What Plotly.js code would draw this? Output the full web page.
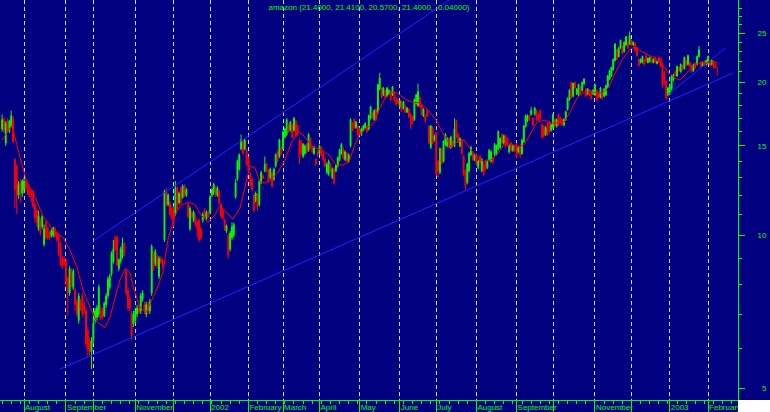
<!DOCTYPE html>
<html>
<head>
<meta charset="utf-8">
<script src="https://cdn.plot.ly/plotly-3.0.1.min.js"></script>
<style>html,body{margin:0;padding:0;background:#000080;}#chart{width:770px;height:412px;}</style>
</head>
<body>
<div id="chart"></div>
<script>
// Daily candles (trading-day index 0 = mid July 2001, last = Feb 2003)
var openP = [
16.2,16.9,15.2,16.8,16.0,16.4,17.0,14.1,13.7,12.0,
12.7,12.1,12.3,12.8,12.6,12.3,12.2,12.2,11.5,11.2,
10.3,10.7,10.4,9.6,10.6,10.3,10.1,10.0,10.0,10.3,
10.1,10.0,9.6,9.0,9.0,8.9,8.2,7.7,8.5,7.9,
7.8,7.4,6.8,7.4,7.6,7.3,7.1,6.5,6.2,5.9,
6.2,6.8,6.9,7.0,7.2,7.1,6.95,7.3,7.6,7.9,
8.4,8.9,9.9,9.9,8.6,8.9,9.1,9.6,8.5,7.8,
7.5,7.0,6.7,6.8,7.0,7.2,7.1,7.5,7.3,7.0,
7.3,7.1,7.7,9.2,8.8,9.1,8.3,9.0,8.9,9.8,
12.2,11.5,11.6,11.3,11.3,11.0,12.4,11.6,12.4,11.9,
12.5,12.0,11.5,10.3,11.1,10.7,10.9,10.6,10.7,10.3,
10.7,11.2,10.8,11.1,11.1,12.0,12.1,12.4,12.0,12.2,
11.5,11.2,10.7,10.2,10.0,9.4,9.9,10.0,11.9,12.9,
13.5,14.8,15.3,14.8,14.7,14.2,13.2,12.9,12.0,11.7,
12.0,11.5,12.7,13.1,13.4,13.8,13.4,13.0,13.3,12.9,
13.7,14.6,14.3,14.9,14.8,15.6,15.8,16.5,16.1,16.5,
16.1,16.8,16.4,15.4,15.3,14.3,14.5,15.1,14.7,15.5,
14.9,14.5,14.1,14.6,14.5,14.9,14.5,14.1,13.3,13.2,
13.8,13.0,13.5,13.4,13.7,14.1,14.5,14.8,14.1,14.5,
14.0,15.0,16.6,16.9,16.3,16.4,16.2,15.8,16.1,16.3,
16.4,16.2,17.0,17.4,16.9,17.7,17.5,19.4,19.5,18.9,
19.3,18.8,19.0,19.2,18.9,19.1,18.6,18.5,17.9,18.3,
17.8,18.0,17.5,17.7,17.3,17.1,16.9,18.2,18.0,18.7,
18.0,17.2,17.2,17.6,16.4,14.9,16.3,15.4,15.9,14.0,
13.3,14.8,14.0,15.1,15.0,15.5,14.9,15.3,15.0,16.8,
15.8,15.0,15.4,14.3,13.4,12.7,13.4,14.4,14.5,14.1,
14.4,13.6,14.3,13.4,13.8,14.0,13.6,14.1,14.0,14.2,
14.4,14.5,14.8,14.9,15.8,15.2,15.7,15.5,14.6,15.2,
14.7,15.0,15.1,14.6,15.0,14.5,15.3,16.4,16.8,17.2,
17.3,17.0,17.3,17.6,17.3,17.6,16.5,16.4,15.8,16.6,
16.7,16.1,16.3,16.9,16.4,17.3,17.0,16.9,16.5,16.9,
17.7,18.5,20.0,18.8,20.0,19.0,18.9,19.6,19.3,19.9,
19.4,19.0,19.3,19.2,19.0,18.9,19.3,19.0,18.7,19.2,
18.8,18.9,19.6,20.3,20.6,21.2,22.1,23.2,22.5,23.4,
23.6,23.0,23.7,24.0,23.8,24.2,23.7,23.9,23.4,22.2,
21.9,21.9,22.2,22.6,21.9,22.0,22.3,21.9,22.4,21.8,
22.4,22.3,21.8,21.0,20.1,18.9,19.0,19.4,20.2,21.0,
20.6,21.4,21.0,21.6,21.3,22.1,21.7,21.9,21.6,21.1,
21.8,21.7,22.5,21.9,21.6,22.0,21.7,21.8,22.0,21.7,
22.0,21.8,21.40];
var highP = [
17.3,17.1,16.8,17.0,16.9,17.6,17.2,14.2,13.8,12.8,
12.9,12.9,13.0,12.9,12.8,12.5,12.3,12.3,11.6,11.3,
11.2,10.8,11.0,10.5,10.7,10.4,10.2,10.3,10.4,10.4,
10.2,10.1,9.7,9.1,9.1,9.0,8.3,8.7,8.6,8.6,
7.9,7.5,7.7,7.5,7.7,7.4,7.2,6.6,6.3,6.3,
7.1,7.2,7.3,8.0,7.3,7.2,7.4,7.7,8.3,8.4,
9.3,9.8,10.0,10.0,9.0,9.5,9.9,9.7,8.6,7.9,
7.6,7.1,7.1,7.2,7.3,7.3,7.7,7.8,7.4,7.4,
7.4,7.5,9.6,9.3,9.4,9.2,9.1,9.1,9.0,12.3,
12.4,12.1,11.7,11.4,11.4,12.8,12.5,12.2,12.5,12.6,
12.6,12.4,11.6,11.4,11.2,11.2,11.0,10.7,10.8,10.4,
11.1,11.3,11.2,11.2,12.0,12.4,12.7,12.5,12.5,12.3,
11.6,11.3,10.8,10.5,10.1,10.2,10.6,10.6,12.9,14.1,
14.5,15.8,15.4,15.5,14.8,14.3,13.3,13.0,12.1,12.2,
12.1,12.9,13.4,13.2,14.3,13.9,13.5,13.6,13.4,13.6,
14.5,14.7,15.5,15.0,16.1,16.3,17.0,16.6,16.8,16.6,
17.1,16.9,16.5,15.5,15.4,15.2,15.1,15.2,15.9,15.6,
15.0,15.0,14.2,14.7,15.1,15.0,14.6,14.2,13.9,14.1,
13.9,13.6,13.6,13.8,14.3,14.8,15.2,14.9,14.7,14.6,
14.5,17.0,16.7,17.0,16.8,16.5,16.3,16.3,16.5,16.7,
16.5,17.3,18.0,17.5,17.7,17.8,19.9,20.9,19.6,19.6,
19.4,19.6,19.4,19.3,19.7,19.2,18.7,18.6,18.5,18.4,
18.4,18.1,17.9,17.8,17.4,17.2,18.6,19.0,19.9,18.8,
18.1,17.8,17.3,17.7,16.5,16.5,16.4,15.8,16.0,14.1,
14.9,14.9,15.4,15.9,15.6,15.6,15.7,15.4,17.0,16.9,
15.9,15.6,15.5,14.4,13.5,13.9,14.6,15.0,14.6,14.5,
14.5,14.1,14.4,14.2,13.9,14.1,14.1,14.8,14.7,14.3,
15.2,15.1,16.1,15.6,15.9,15.8,15.8,15.6,15.1,15.3,
15.1,15.1,15.2,15.0,15.1,15.5,16.5,17.3,17.3,17.3,
17.9,17.1,17.9,17.7,17.4,17.7,16.6,16.5,16.4,16.7,
16.8,16.6,17.4,17.0,17.0,17.4,17.1,17.0,17.0,17.6,
18.7,19.4,20.1,20.0,20.1,19.5,19.9,19.7,20.1,20.4,
19.5,19.5,19.4,19.3,19.4,19.9,19.4,19.1,19.6,19.3,
19.5,19.8,20.7,21.2,21.5,22.3,23.9,23.3,23.5,24.3,
23.7,24.1,24.7,24.1,25.2,24.3,24.1,24.0,23.5,22.3,
22.3,22.6,22.3,22.7,22.4,22.5,22.4,22.3,22.5,22.1,
22.5,22.4,21.9,21.1,20.2,19.6,19.8,20.7,20.8,21.1,
21.6,21.5,21.8,21.7,22.5,22.2,22.7,22.0,21.7,21.8,
21.9,22.6,23.6,22.0,22.0,22.1,22.2,22.6,22.1,22.2,
22.1,21.9,21.41];
var lowP = [
16.0,15.9,15.0,16.0,15.9,16.3,15.2,11.3,11.0,11.8,
11.6,11.9,12.1,12.2,12.0,11.9,11.6,11.3,10.6,10.4,
10.2,10.0,10.3,9.5,9.8,9.8,9.8,9.9,9.9,9.9,
9.7,9.1,8.7,8.6,8.7,7.9,6.95,7.6,7.9,7.8,
7.1,6.9,6.7,7.1,6.9,7.0,6.0,5.75,5.8,5.45,
6.1,6.7,6.8,6.9,6.8,6.85,6.9,7.2,7.5,7.8,
8.3,8.8,9.3,8.7,8.5,8.8,9.0,9.1,7.6,7.1,
7.1,6.2,6.6,6.7,6.9,7.0,7.0,7.4,7.0,6.9,
7.0,7.0,7.6,8.5,8.7,8.6,8.2,8.8,8.6,9.7,
11.4,11.4,10.9,10.7,10.4,10.9,11.2,11.5,11.5,11.8,
11.9,11.9,10.8,10.2,10.8,10.6,10.4,9.9,9.7,9.8,
10.6,10.8,10.7,10.8,11.0,11.9,12.0,11.9,11.9,11.5,
10.8,10.7,10.2,10.1,9.0,9.3,9.8,9.9,11.8,12.8,
13.4,14.7,14.4,14.7,13.7,13.3,12.5,12.2,11.1,11.6,
11.2,11.4,12.6,12.9,13.3,13.3,12.7,12.9,12.4,12.8,
13.6,13.9,14.2,14.4,14.7,15.5,15.7,15.9,16.0,15.5,
16.0,15.6,15.7,13.8,14.4,14.2,14.4,14.5,14.6,14.8,
14.5,14.4,13.7,14.3,14.4,14.3,14.0,13.6,13.2,13.1,
13.3,12.9,12.6,13.3,13.6,14.0,14.4,14.1,14.0,13.9,
13.9,14.9,16.0,16.2,16.2,15.7,15.8,15.7,16.0,16.2,
15.9,16.1,16.9,17.0,16.8,16.8,17.4,19.3,18.6,18.8,
18.6,18.7,18.9,18.4,18.8,18.4,18.0,18.1,17.8,17.5,
17.7,17.4,17.4,17.0,16.2,16.6,16.8,18.1,17.9,17.8,
17.2,17.1,16.7,17.1,15.1,14.8,15.1,15.3,13.1,13.0,
13.2,13.8,13.9,15.0,14.9,14.8,14.8,14.9,14.9,15.5,
15.2,14.9,14.4,13.1,12.3,12.6,13.3,14.3,14.0,14.0,
13.7,13.5,13.8,13.3,13.1,13.4,13.5,14.0,13.9,13.8,
14.3,14.4,14.7,14.8,15.1,15.1,14.9,15.0,14.5,14.6,
14.6,14.6,14.2,14.5,14.2,14.4,15.2,16.3,16.7,16.8,
17.2,16.4,17.2,16.8,16.8,16.9,15.5,15.6,15.7,15.7,
15.9,16.0,16.2,16.3,16.3,16.4,16.6,16.4,16.4,16.8,
17.6,18.4,18.6,18.7,19.4,18.9,18.8,18.9,19.2,19.8,
18.7,18.9,18.8,18.5,18.9,18.8,18.4,18.6,18.6,18.5,
18.7,18.8,19.5,20.2,20.5,21.1,22.0,22.1,22.4,23.3,
22.7,22.9,23.6,23.3,23.7,23.6,23.6,23.0,22.5,21.5,
21.8,21.8,21.6,21.9,21.8,21.9,21.8,21.8,21.8,21.7,
21.8,21.4,19.5,19.8,18.5,18.8,18.9,19.3,20.1,20.6,
20.5,21.0,20.9,21.1,21.2,21.5,21.6,21.4,20.9,21.0,
21.3,21.6,22.4,21.4,21.5,21.5,21.6,21.7,21.5,21.6,
21.3,21.3,20.57];
var closeP = [
16.9,16.1,16.6,16.1,16.8,17.2,15.3,12.3,12.0,12.6,
12.1,12.8,12.8,12.4,12.1,12.0,11.9,11.4,10.8,10.6,
10.9,10.1,10.9,10.3,9.9,9.9,9.9,10.2,10.35,9.95,
9.8,9.2,8.8,8.7,8.75,8.1,7.7,8.6,8.0,8.5,
7.3,7.0,7.6,7.2,7.0,7.1,6.1,5.95,5.9,6.2,
6.7,7.1,7.2,7.9,6.85,6.9,7.35,7.6,8.2,8.3,
9.2,9.4,9.4,8.75,8.95,9.4,9.65,9.2,7.7,7.2,
7.2,6.35,7.0,7.1,7.2,7.05,7.6,7.7,7.1,7.3,
7.1,7.4,9.5,8.6,9.3,8.7,9.0,8.85,8.7,12.2,
11.5,12.0,11.0,10.8,10.5,12.4,11.3,12.1,11.6,12.5,
12.0,12.3,10.9,11.3,10.9,11.1,10.5,10.3,9.8,9.9,
11.0,10.85,11.1,10.9,11.9,12.3,12.6,12.0,12.4,11.6,
10.9,10.8,10.3,10.45,9.15,10.1,10.4,10.5,12.7,14.0,
14.4,15.4,14.5,15.4,13.8,13.4,12.6,12.3,11.2,12.1,
11.4,12.8,13.3,12.95,13.8,13.4,12.8,13.5,12.5,13.5,
14.4,14.0,15.4,14.5,16.0,16.2,16.9,16.0,16.7,15.6,
17.0,15.7,15.8,14.2,14.5,15.1,15.0,14.6,15.8,14.9,
14.6,14.9,13.8,14.4,15.0,14.4,14.1,13.7,13.8,14.0,
13.4,13.5,12.7,13.75,14.2,14.7,15.1,14.2,14.6,14.0,
14.4,16.9,16.1,16.3,16.7,15.8,15.9,16.2,16.4,16.6,
16.0,17.2,17.9,17.1,17.6,16.9,19.8,20.4,18.7,19.5,
18.7,19.5,19.3,18.5,19.6,18.5,18.1,18.2,18.4,17.6,
18.3,17.5,17.8,17.1,16.5,16.7,18.5,18.9,19.2,17.9,
17.3,17.7,16.8,17.2,15.2,16.4,15.2,15.7,13.2,13.4,
14.8,13.9,15.3,15.8,15.5,14.9,15.6,15.0,16.2,15.6,
15.3,15.5,14.5,13.2,12.5,13.8,14.5,14.9,14.1,14.4,
13.8,14.0,13.9,14.1,13.2,13.5,14.0,14.7,14.6,13.95,
15.1,15.0,16.0,15.5,15.2,15.7,15.0,15.1,15.0,14.7,
15.0,14.7,14.3,14.9,14.4,15.4,16.4,17.2,17.2,16.9,
17.6,16.5,17.8,16.9,16.9,17.0,15.6,15.7,16.3,15.8,
16.0,16.5,17.3,16.4,16.9,16.5,16.7,16.5,16.9,17.5,
18.6,19.3,18.7,19.9,19.5,19.4,19.8,19.0,20.0,20.3,
18.8,19.4,18.9,18.6,19.3,19.8,18.5,18.7,19.5,18.6,
19.4,19.7,20.6,21.1,21.4,22.2,23.8,22.2,23.4,24.2,
22.8,24.0,24.6,23.4,24.7,23.7,24.0,23.1,22.6,21.6,
22.2,22.5,21.7,22.0,22.3,22.4,21.9,22.2,21.9,22.0,
21.9,21.5,19.8,19.9,18.6,19.5,19.7,20.6,20.7,20.7,
21.5,21.1,21.7,21.2,22.4,21.6,22.6,21.5,21.0,21.7,
21.4,22.5,23.2,21.5,21.9,21.6,22.1,22.5,21.6,22.1,
21.4,21.44,21.40];

// Moving average line (trading-day index, price)
var maIdx = [0,5.4,9.8,13.6,17,22.4,27.9,33.4,37.2,41,44.3,48.2,52,56.4,59.1,61.9,64.6,67.4,70.1,71.8,
75.6,78.9,81.1,85.5,88.2,91,94.8,98.1,103,105.7,109,112.9,116.7,119.5,122.7,126.6,130.4,133.2,135.9,138.6,
141.4,144.1,147.4,151.3,155.1,158.4,162.2,165,170.4,174.8,179.2,183,186.9,190.2,192.9,195.7,199.5,203.9,206.6,209.4,
213.2,216,219.8,224.2,228.6,233.5,237.9,240.6,243.4,246.1,249.4,253.2,257,260.3,264.2,268,271.3,275.2,279,282.3,
286.1,290,293.3,297.1,301,304.2,308.1,311.9,315.2,319,322.9,328.9,332.7,336,339.9,343.7,347,350.8,354.6,357.9,
361.8,365.6,368.9,371.6,374.4,378.2,382,385.4,389.2,392];
var maVal = [15.4,16.45,14.25,12.7,12.15,10.9,10.25,9.9,9.36,8.67,7.81,7.22,6.75,6.58,6.9,7.56,8.17,8.59,8.44,7.92,
7.22,7.04,7.33,7.95,8.48,9.85,10.97,11.48,11.63,11.48,10.97,10.62,10.97,11.48,11.12,10.77,11.33,12.57,13.7,13.57,
12.74,12.68,12.86,13.33,14.08,15.2,15.98,15.76,14.93,14.73,14.4,13.76,13.76,13.95,14.93,15.76,16.24,16.65,17.66,18.48,
19.15,19.15,18.65,18.31,18.23,17.66,16.87,16.13,15.55,14.93,15.27,15.41,14.73,14.27,13.95,14.08,14.4,15.13,15.13,14.93,
15.06,15.98,16.72,16.87,16.65,16.65,16.72,17.66,18.65,19.15,19.15,19.07,19.59,20.87,22.15,23.18,23.5,22.97,22.66,22.35,
21.65,20.87,20.41,20.23,20.69,21.46,21.85,21.85,21.94,21.94];

// Trend lines (index, price) end points
var trendUpIdx = [50, 246];     var trendUpVal = [9.75, 29.2];
var trendLowIdx = [31.7, 400.7]; var trendLowVal = [5.45, 20.88];
var trendRecIdx = [365, 396.6];  var trendRecVal = [18.93, 23.4];

// Axis ticks
var monthIdx = [12,35,50,73,94,114,135,154,174,196,218,238,260,282,302,325,345,366,387];
var monthText = ["August","September","","November","","2002","February","March","April","May","June","July","August","September","","November","","2003","February"];
var priceTicks = [5,10,15,20,25];
var priceTickText = ["\u20075","10","15","20","25"];
var priceMinor = [6,7,8,9,11,12,13,14,16,17,18,19,21,22,23,24,26,27,28];
var titleText = "amazon (21.4000, 21.4100, 20.5700, 21.4000, -0.04000)";

var idx = openP.map(function(_, i){ return i; });
var GREEN = '#00ff00', RED = '#ff0000', BLUE = '#2424ff', NAVY = '#000080';
var FONT = 'Liberation Sans, Arial, sans-serif';

var traces = [
  {type:'scatter', mode:'lines', x:trendUpIdx, y:trendUpVal, line:{color:BLUE, width:1}, hoverinfo:'skip'},
  {type:'scatter', mode:'lines', x:trendLowIdx, y:trendLowVal, line:{color:BLUE, width:1}, hoverinfo:'skip'},
  {type:'scatter', mode:'lines', x:trendRecIdx, y:trendRecVal, line:{color:BLUE, width:1}, hoverinfo:'skip'},
  {type:'candlestick', x:idx, open:openP, high:highP, low:lowP, close:closeP,
   increasing:{line:{color:GREEN, width:1}, fillcolor:GREEN},
   decreasing:{line:{color:RED, width:1}, fillcolor:RED},
   whiskerwidth:0},
  {type:'scatter', mode:'lines', x:maIdx, y:maVal, line:{color:RED, width:1}, hoverinfo:'skip'}
];

var layout = {
  width:770, height:412,
  margin:{l:0, r:32, t:0, b:12, pad:0},
  paper_bgcolor:NAVY, plot_bgcolor:NAVY,
  showlegend:false,
  title:{text:titleText, font:{family:FONT, size:8, color:GREEN},
         x:0.5, xref:'paper', xanchor:'center', y:1-7.5/412, yref:'container', yanchor:'middle'},
  xaxis:{
    range:[-1.16, 403.4], tickmode:'array', tickvals:monthIdx, ticktext:monthText,
    ticks:'outside', ticklen:12, tickwidth:1, tickcolor:GREEN, tickangle:0,
    showline:true, linecolor:GREEN, linewidth:1, zeroline:false,
    showgrid:true, gridcolor:'#d4d4d4', gridwidth:1, griddash:'4px,3px',
    tickfont:{family:FONT, size:8, color:GREEN},
    ticklabelposition:'outside right', ticklabelstandoff:-1, ticklabeloverflow:'allow',
    minor:{tickmode:'linear', tick0:0, dtick:5, ticks:'outside', ticklen:3, tickcolor:GREEN, showgrid:false},
    rangeslider:{visible:false}, fixedrange:true
  },
  yaxis:{
    type:'log', side:'right', range:[0.6758, 1.4634],
    tickmode:'array', tickvals:priceTicks, ticktext:priceTickText,
    ticks:'outside', ticklen:6, tickwidth:1, tickcolor:GREEN,
    showline:true, linecolor:GREEN, linewidth:1, zeroline:false, showgrid:false,
    tickfont:{family:FONT, size:8, color:GREEN}, ticklabelstandoff:11,
    minor:{tickmode:'array', tickvals:priceMinor, ticks:'outside', ticklen:3, tickcolor:GREEN, showgrid:false},
    fixedrange:true
  },
  shapes:[{type:'rect', xref:'paper', yref:'paper', x0:1, x1:1.2, y0:-0.1, y1:0, fillcolor:'#ffffff', line:{width:0}, layer:'above'}]
};

Plotly.newPlot('chart', traces, layout, {displayModeBar:false, staticPlot:true});
</script>
</body>
</html>
